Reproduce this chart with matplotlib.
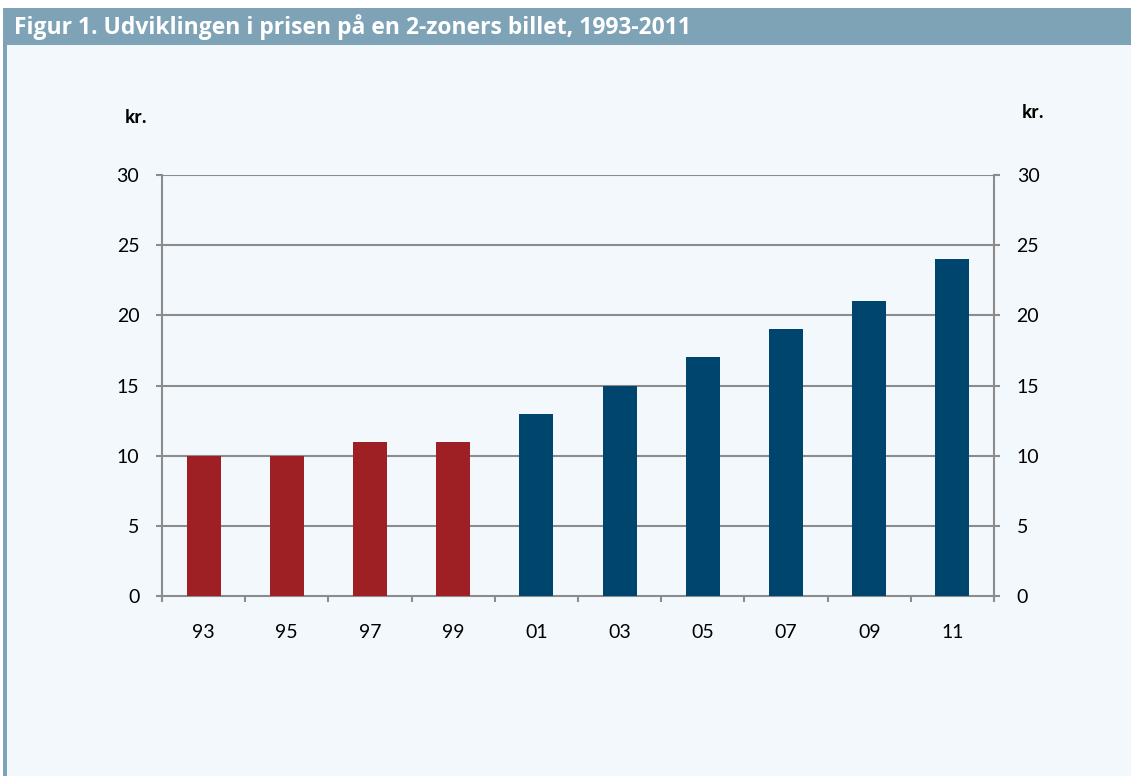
import numpy as np
import matplotlib.pyplot as plt
from matplotlib.patches import Rectangle

# data
years = ['93', '95', '97', '99', '01', '03', '05', '07', '09', '11']
prices = [10, 10, 11, 11, 13, 15, 17, 19, 21, 24]
bar_colors = ['#9e1f24'] * 4 + ['#00456e'] * 6
yticks = [0, 5, 10, 15, 20, 25, 30]

title = 'Figur 1. Udviklingen i prisen på en 2-zoners billet, 1993-2011'

W, H = 1131, 776
bg = '#f3f8fc'
bar_blue = '#7fa3b6'
grid_col = '#8c8c8c'

fig = plt.figure(figsize=(W / 100, H / 100), dpi=100)
fig.patch.set_facecolor('white')

# background panel, title bar and left edge
fig.patches.append(Rectangle((3 / W, 0), 1 - 3 / W, 1 - 45 / H, transform=fig.transFigure,
                             facecolor=bg, edgecolor='none', zorder=-10))
fig.patches.append(Rectangle((3 / W, 1 - 45 / H), 1 - 3 / W, 37 / H, transform=fig.transFigure,
                             facecolor=bar_blue, edgecolor='none', zorder=-9))
fig.patches.append(Rectangle((3 / W, 0), 4 / W, 1 - 45 / H, transform=fig.transFigure,
                             facecolor=bar_blue, edgecolor='none', zorder=-9))
fig.text(14 / W, 1 - 27 / H, title, color='white', fontsize=16.5, fontweight='bold',
         family='Open Sans', va='center', ha='left')

left, right, top, bottom = 162, 994, 175, 596
ax = fig.add_axes([left / W, 1 - bottom / H, (right - left) / W, (bottom - top) / H], zorder=5)
ax.set_facecolor('none')

x = np.arange(len(years))
ax.bar(x, prices, width=0.41, color=bar_colors, zorder=3)

ax.set_xlim(-0.5, len(years) - 0.5)
ax.set_ylim(0, 30)
ax.set_yticks(yticks)
for y in yticks[1:]:
    ax.axhline(y, color=grid_col, lw=1.5, zorder=1)

for s in ['left', 'right', 'bottom']:
    ax.spines[s].set_color(grid_col)
    ax.spines[s].set_linewidth(1.5)
ax.spines['top'].set_visible(False)

ax.set_xticks(np.arange(-0.5, len(years) + 0.5, 1), minor=False)
ax.set_xticklabels([])
ax.set_xticks(x, minor=True)
ax.set_xticklabels(years, minor=True)
ax.tick_params(axis='x', which='major', length=4.3, width=1.5, color=grid_col, direction='out')
ax.tick_params(axis='x', which='minor', length=0, pad=20, labelsize=14)

ax.tick_params(axis='y', length=4.3, width=1.5, color=grid_col, direction='out',
               labelsize=14, pad=12, right=True, labelright=True)
for lab in ax.get_xticklabels(minor=True) + ax.get_yticklabels():
    lab.set_family('Lato')

fig.text(136 / W, 1 - 118 / H, 'kr.', fontsize=12, fontweight='bold', family='Open Sans',
         ha='center', va='center')
fig.text(1033 / W, 1 - 113 / H, 'kr.', fontsize=12, fontweight='bold', family='Open Sans',
         ha='center', va='center')

fig.savefig('out.png', dpi=100, facecolor=fig.get_facecolor())
